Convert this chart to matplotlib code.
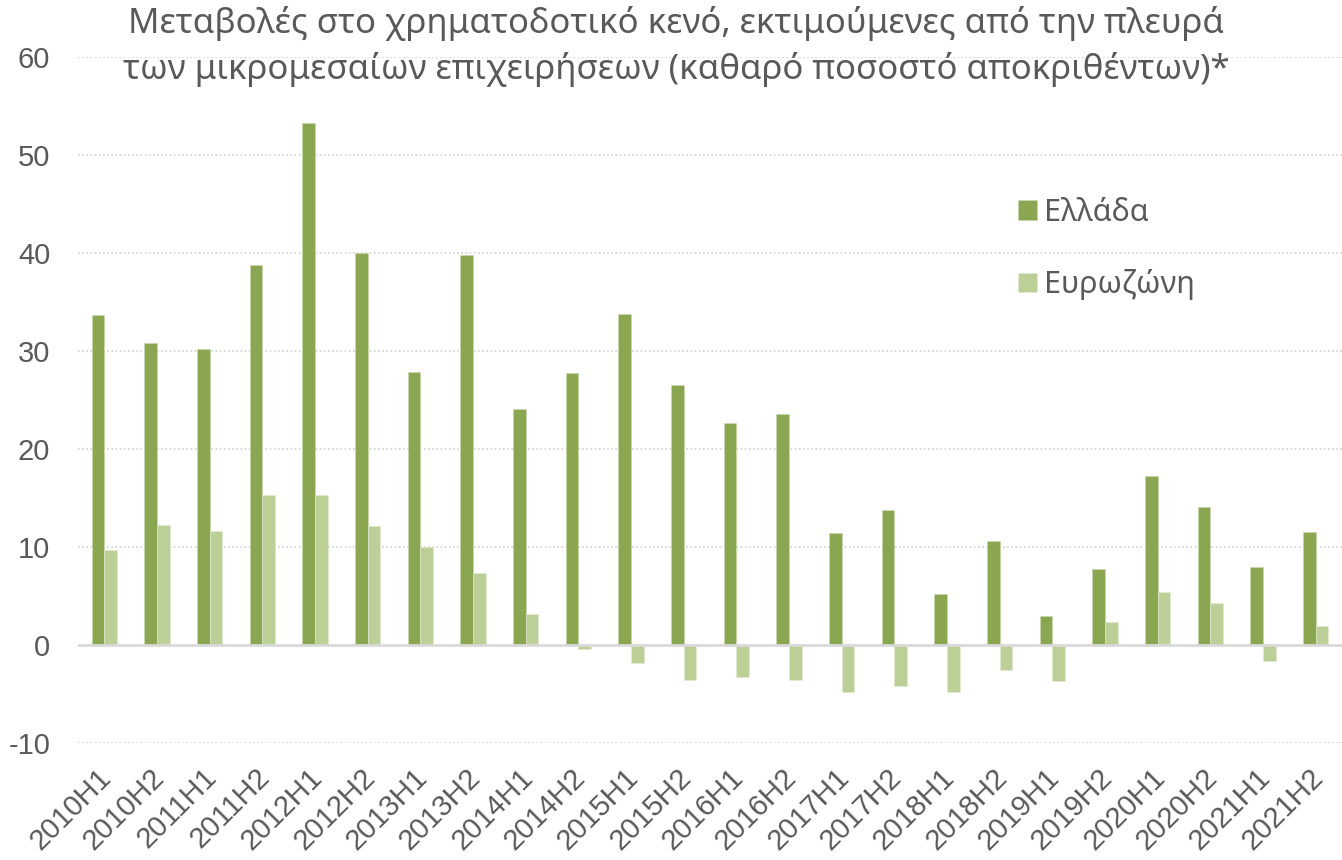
import matplotlib
matplotlib.use("Agg")
import matplotlib.pyplot as plt
import matplotlib.transforms as mtransforms
import numpy as np

categories = ["2010H1", "2010H2", "2011H1", "2011H2", "2012H1", "2012H2", "2013H1", "2013H2",
              "2014H1", "2014H2", "2015H1", "2015H2", "2016H1", "2016H2", "2017H1", "2017H2",
              "2018H1", "2018H2", "2019H1", "2019H2", "2020H1", "2020H2", "2021H1", "2021H2"]
greece = [33.7, 30.8, 30.2, 38.8, 53.3, 40.0, 27.9, 39.8, 24.1, 27.8, 33.8, 26.5,
          22.7, 23.6, 11.4, 13.8, 5.2, 10.6, 3.0, 7.8, 17.2, 14.1, 8.0, 11.5]
eurozone = [9.7, 12.2, 11.6, 15.3, 15.3, 12.1, 10.0, 7.3, 3.2, -0.4, -1.8, -3.6,
            -3.3, -3.6, -4.8, -4.2, -4.8, -2.6, -3.7, 2.3, 5.4, 4.3, -1.6, 1.9]
yticks = [-10, 0, 10, 20, 30, 40, 50, 60]
title = ("Μεταβολές στο χρηματοδοτικό κενό, εκτιμούμενες από την πλευρά\n"
         "των μικρομεσαίων επιχειρήσεων (καθαρό ποσοστό αποκριθέντων)*")

c_gr = "#8BA650"
c_ez = "#BBCF96"
txt = "#595959"

fig = plt.figure(figsize=(13.42, 8.6), dpi=100)
ax = fig.add_axes([78/1342, 117/860, 1 - 78/1342, (743-57)/860])

x = np.arange(len(categories))
w = 0.24
ax.bar(x - w/2, greece, width=w, color=c_gr, edgecolor="#C9D9AE", linewidth=0.4, label="Ελλάδα", zorder=3)
ax.bar(x + w/2, eurozone, width=w, color=c_ez, edgecolor="#E4EDD6", linewidth=0.4, label="Ευρωζώνη", zorder=3)

ax.set_xlim(-0.5, len(categories) - 0.5)
ax.set_ylim(-10, 60)
ax.set_yticks(yticks)
for t in yticks:
    if t == 0:
        ax.axhline(0, color="#D9D9D9", lw=2, zorder=4)
    else:
        ax.axhline(t, color="#D0D0D0", lw=1.2, ls=(0, (1, 1.5)), zorder=1)

for s in ax.spines.values():
    s.set_visible(False)
ax.tick_params(axis="both", length=0)
ax.tick_params(axis="y", pad=20)
ax.set_yticklabels([str(t) for t in yticks], fontsize=21, color=txt, family="Liberation Sans")
ax.set_xticks(x)
ax.set_xticklabels(categories, rotation=45, ha="right", va="top", rotation_mode="anchor",
                   fontsize=21, color=txt, family="Liberation Sans")
ax.tick_params(axis="x", pad=0)
offset = mtransforms.ScaledTranslation(-7/100, -20/100, fig.dpi_scale_trans)
for lbl in ax.get_xticklabels():
    lbl.set_transform(lbl.get_transform() + offset)

fig.text(0.504, 0.993, title, ha="center", va="top", fontsize=25, color=txt,
         family="Noto Sans", linespacing=1.42)

leg = ax.legend(loc="upper left", bbox_to_anchor=(0.722, 0.835), frameon=False,
                labelspacing=1.36, handlelength=0.62, handleheight=0.62,
                handletextpad=0.22, prop={"family": "Noto Sans", "size": 22})
for t in leg.get_texts():
    t.set_color(txt)

fig.savefig("out.png", dpi=100)
